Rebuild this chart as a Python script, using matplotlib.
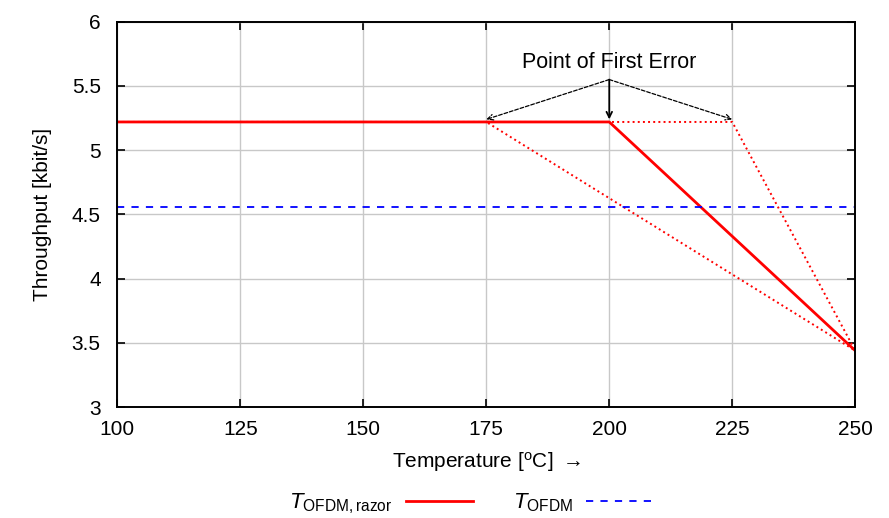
import matplotlib
matplotlib.use("Agg")
import matplotlib.pyplot as plt

plt.rcParams['font.family'] = ['Liberation Sans', 'DejaVu Sans']
plt.rcParams['mathtext.fontset'] = 'custom'
plt.rcParams['mathtext.rm'] = 'Liberation Sans'
plt.rcParams['mathtext.it'] = 'Liberation Sans:italic'

# throughput curves (kbit/s) vs. temperature (degC)
razor_temp = [100, 200, 250]
razor_tp = [5.22, 5.22, 3.44]
early_temp = [100, 175, 250]
early_tp = [5.22, 5.22, 3.44]
late_temp = [100, 225, 250]
late_tp = [5.22, 5.22, 3.44]
ofdm_temp = [100, 250]
ofdm_tp = [4.56, 4.56]

first_error_x = [175, 200, 225]
first_error_y = 5.22
label_xy = (200, 5.55)

x_ticks = [100, 125, 150, 175, 200, 225, 250]
y_ticks = [3, 3.5, 4, 4.5, 5, 5.5, 6]

fig = plt.figure(figsize=(8.89, 5.18), dpi=100)
ax = fig.add_axes([0.132, 0.214, 0.830, 0.744])

ax.plot(early_temp, early_tp, color='red', ls=':', lw=1.4)
ax.plot(late_temp, late_tp, color='red', ls=':', lw=1.4)
l_razor, = ax.plot(razor_temp, razor_tp, color='red', lw=2.0)
l_ofdm, = ax.plot(ofdm_temp, ofdm_tp, color='blue', ls=(0, (4, 4)), lw=1.3)

for xe in first_error_x:
    ax.annotate('', xy=(xe, first_error_y + 0.02), xytext=label_xy,
                arrowprops=dict(arrowstyle='->', color='black',
                                lw=1.3 if xe == 200 else 0.9,
                                shrinkA=0, shrinkB=0,
                                linestyle='-' if xe == 200 else (0, (3, 1.5))))
ax.text(label_xy[0], label_xy[1] + 0.05, 'Point of First Error',
        ha='center', va='bottom', fontsize=15.5)

ax.set_xlim(100, 250)
ax.set_ylim(3, 6)
ax.set_xticks(x_ticks)
ax.set_yticks(y_ticks)
ax.set_yticklabels(['3', '3.5', '4', '4.5', '5', '5.5', '6'])
ax.grid(True, color='#c8c8c8', lw=1.0)
ax.tick_params(direction='in', length=6, width=1.2, labelsize=15,
               top=True, right=True)
ax.tick_params(axis='x', pad=9)
ax.tick_params(axis='y', pad=12)
for s in ax.spines.values():
    s.set_linewidth(1.4)

ax.set_xlabel('Temperature [$^{\\rm o}$C] $\\rightarrow$', fontsize=15, labelpad=8)
ax.set_ylabel('Throughput [kbit/s]', fontsize=15, labelpad=14)

fig.legend([l_razor, l_ofdm],
           ['$T_{\\rm OFDM,razor}$', '$T_{\\rm OFDM}$'],
           loc='lower center', bbox_to_anchor=(0.53, -0.035), ncol=2,
           markerfirst=False, frameon=False, fontsize=16,
           handlelength=3.0, columnspacing=1.8, handletextpad=0.6)

fig.savefig('out.png', dpi=100)
